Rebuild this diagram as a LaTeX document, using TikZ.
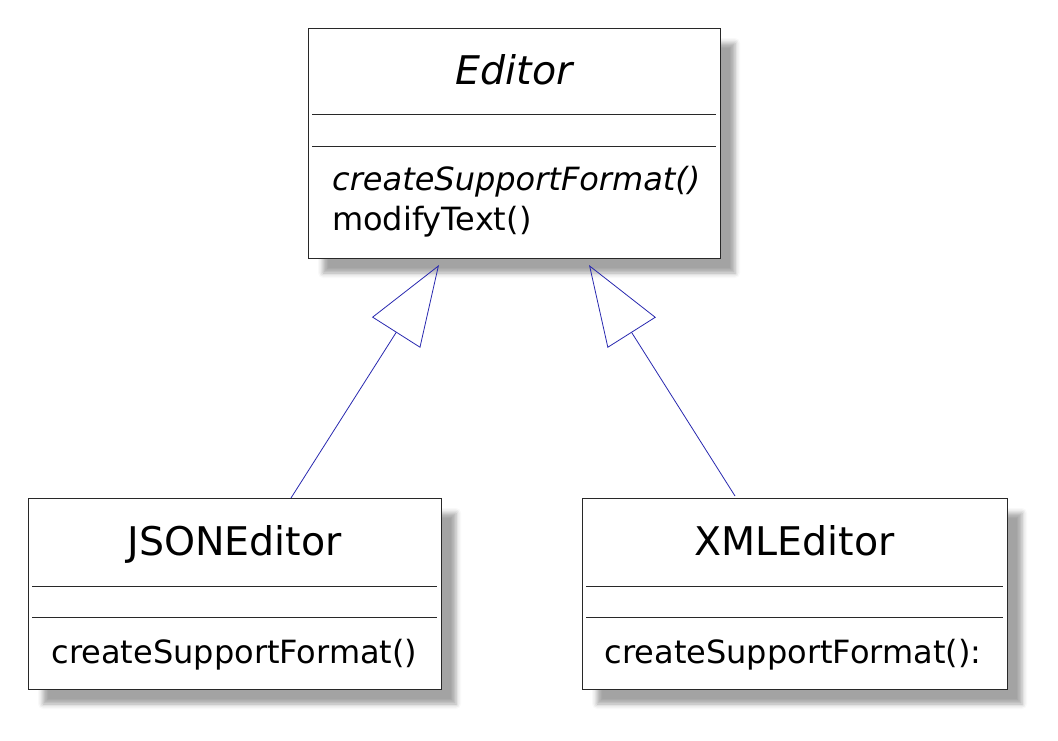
\documentclass[tikz,border=0pt]{standalone}
\usepackage{fontspec}
\setmainfont{DejaVu Sans}
\usetikzlibrary{arrows.meta,calc,shadows.blur}
\definecolor{linkblue}{RGB}{40,40,175}
\definecolor{boxline}{RGB}{40,40,40}
\begin{document}
\begin{tikzpicture}[x=1pt,y=-1pt,
  umlbox/.style={draw=boxline, line width=0.8pt, fill=white, inner sep=0pt, outer sep=0pt,
    anchor=north west,
    blur shadow={shadow xshift=15pt, shadow yshift=-15pt, shadow blur radius=5pt, shadow opacity=36}},
  sepline/.style={draw=boxline, line width=0.8pt},
  titletext/.style={inner sep=0pt, anchor=base, font=\fontsize{39.5}{46}\selectfont},
  bodytext/.style={inner sep=0pt, font=\fontsize{32}{38}\selectfont},
  inherit/.style={draw=linkblue, line width=0.8pt, -{Triangle[open, length=80pt, width=57pt]}}
]
\useasboundingbox (0,0) rectangle (1058,741);

% Editor
\node[umlbox, minimum width=412pt, minimum height=230pt] (editor) at (308,28) {};
\draw[sepline] ($(editor.north west)+(4,86)$) -- ($(editor.north east)+(-4,86)$);
\draw[sepline] ($(editor.north west)+(4,118)$) -- ($(editor.north east)+(-4,118)$);
\node[titletext] (editortitle) at (514,85) {\itshape Editor};
\node[bodytext, anchor=base west] (editorop1) at (332,190) {\itshape createSupportFormat()};
\node[bodytext, anchor=base west] (editorop2) at (332,230) {modifyText()};

% JSONEditor
\node[umlbox, minimum width=413pt, minimum height=191pt] (json) at (28,498) {};
\draw[sepline] ($(json.north west)+(4,88)$) -- ($(json.north east)+(-4,88)$);
\draw[sepline] ($(json.north west)+(4,119)$) -- ($(json.north east)+(-4,119)$);
\node[titletext] (jsontitle) at (234.5,555) {JSONEditor};
\node[bodytext, anchor=base] (jsonop) at (234.5,663) {createSupportFormat()};

% XMLEditor
\node[umlbox, minimum width=425pt, minimum height=191pt] (xml) at (582,498) {};
\draw[sepline] ($(xml.north west)+(4,88)$) -- ($(xml.north east)+(-4,88)$);
\draw[sepline] ($(xml.north west)+(4,119)$) -- ($(xml.north east)+(-4,119)$);
\node[titletext] (xmltitle) at (794.5,555) {XMLEditor};
\node[bodytext, anchor=base] (xmlop) at (793,663) {createSupportFormat():};

% Generalizations
\coordinate (jsontop) at ($(json.north)+(56.5,0)$);
\coordinate (tipleft) at ($(editor.south)+(-75,7)$);
\coordinate (xmltop) at ($(xml.north)+(-59.5,-2)$);
\coordinate (tipright) at ($(editor.south)+(75,7)$);
\draw[inherit] (jsontop) -- (tipleft);
\draw[inherit] (xmltop) -- (tipright);
\end{tikzpicture}
\end{document}
